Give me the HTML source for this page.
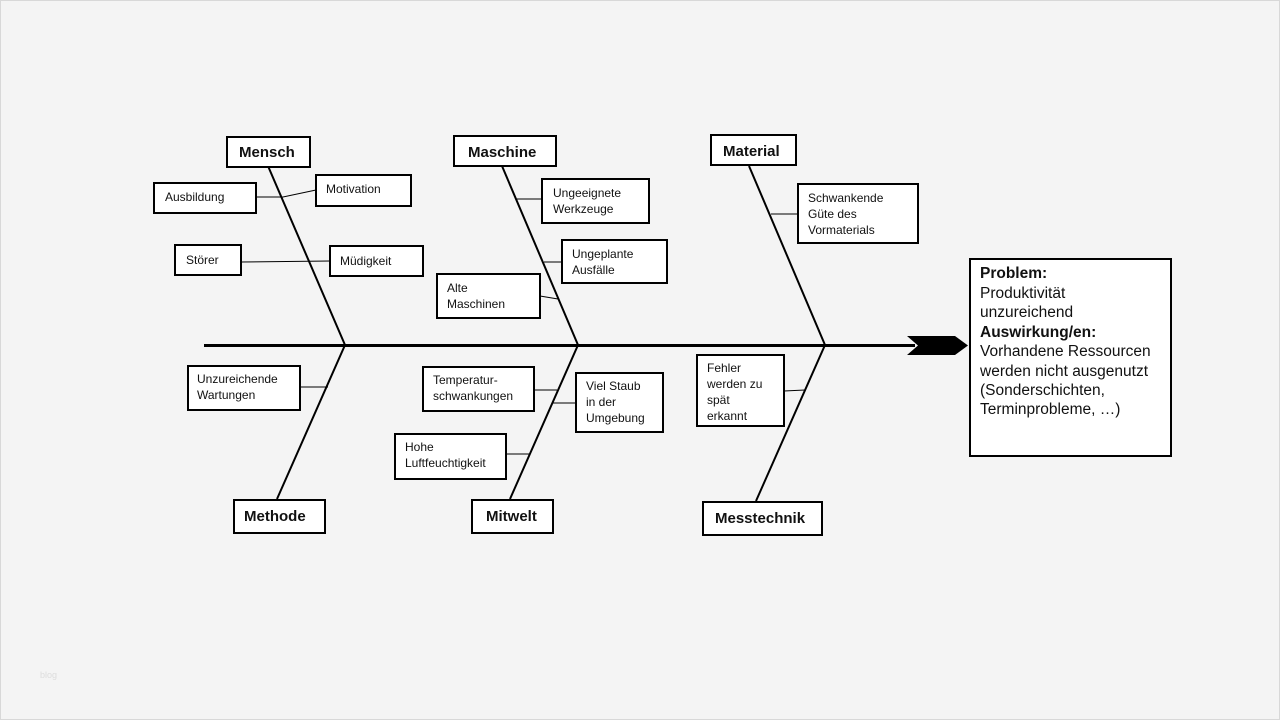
<!DOCTYPE html>
<html><head><meta charset="utf-8"><style>
html,body{margin:0;padding:0;background:#f4f4f4;}
svg{display:block}
text{font-family:"Liberation Sans",Arial,sans-serif;fill:#111;}
.s{font-size:12px}
.b{font-size:15px;font-weight:bold}
.p{font-size:15.5px}
</style></head><body>
<svg width="1280" height="720" viewBox="0 0 1280 720" xmlns="http://www.w3.org/2000/svg">
<rect x="0.5" y="0.5" width="1279" height="719" fill="#f4f4f4" stroke="#d8d8d8"/>
<text x="40" y="678" style="font-size:9px;fill:#ddd">blog</text>
<g stroke="#000" fill="none">
<line x1="204" y1="345.5" x2="915" y2="345.5" stroke-width="3"/>
<polyline points="268,166 345,345 277,499" stroke-width="2"/>
<polyline points="502,166 578,345 510,499" stroke-width="2"/>
<polyline points="749,166 825,345 756,501" stroke-width="2"/>
<g stroke-width="1">
<polyline points="256,197 283,197 316,190"/>
<line x1="241" y1="262" x2="330" y2="261"/>
<line x1="517" y1="199" x2="542" y2="199"/>
<line x1="544" y1="262" x2="562" y2="262"/>
<line x1="540" y1="296" x2="558" y2="299"/>
<line x1="771" y1="214" x2="798" y2="214"/>
<line x1="300" y1="387" x2="328" y2="387"/>
<line x1="534" y1="390" x2="557" y2="390"/>
<line x1="553" y1="403" x2="576" y2="403"/>
<line x1="506" y1="454" x2="529" y2="454"/>
<line x1="784" y1="391" x2="805" y2="390"/>
</g>
</g>
<polygon points="907,336 955,336 968,345.5 955,355 907,355 918,345.5" fill="#000"/>
<g fill="#fff" stroke="#000" stroke-width="2">
<rect x="227" y="137" width="83" height="30"/>
<rect x="454" y="136" width="102" height="30"/>
<rect x="711" y="135" width="85" height="30"/>
<rect x="154" y="183" width="102" height="30"/>
<rect x="316" y="175" width="95" height="31"/>
<rect x="175" y="245" width="66" height="30"/>
<rect x="330" y="246" width="93" height="30"/>
<rect x="542" y="179" width="107" height="44"/>
<rect x="562" y="240" width="105" height="43"/>
<rect x="437" y="274" width="103" height="44"/>
<rect x="798" y="184" width="120" height="59"/>
<rect x="970" y="259" width="201" height="197"/>
<rect x="188" y="366" width="112" height="44"/>
<rect x="423" y="367" width="111" height="44"/>
<rect x="576" y="373" width="87" height="59"/>
<rect x="395" y="434" width="111" height="45"/>
<rect x="697" y="355" width="87" height="71"/>
<rect x="234" y="500" width="91" height="33"/>
<rect x="472" y="500" width="81" height="33"/>
<rect x="703" y="502" width="119" height="33"/>
</g>
<text class="b" x="239" y="157">Mensch</text>
<text class="b" x="468" y="157">Maschine</text>
<text class="b" x="723" y="156">Material</text>
<text class="b" x="244" y="521">Methode</text>
<text class="b" x="486" y="521">Mitwelt</text>
<text class="b" x="715" y="523">Messtechnik</text>
<text class="s" x="165" y="201">Ausbildung</text>
<text class="s" x="326" y="193">Motivation</text>
<text class="s" x="186" y="264">Störer</text>
<text class="s" x="340" y="265">Müdigkeit</text>
<text class="s" x="553" y="197">Ungeeignete</text><text class="s" x="553" y="213">Werkzeuge</text>
<text class="s" x="572" y="258">Ungeplante</text><text class="s" x="572" y="274">Ausfälle</text>
<text class="s" x="447" y="292">Alte</text><text class="s" x="447" y="308">Maschinen</text>
<text class="s" x="808" y="202">Schwankende</text><text class="s" x="808" y="218">Güte des</text><text class="s" x="808" y="234">Vormaterials</text>
<text class="s" x="197" y="383">Unzureichende</text><text class="s" x="197" y="399">Wartungen</text>
<text class="s" x="433" y="384">Temperatur-</text><text class="s" x="433" y="400">schwankungen</text>
<text class="s" x="586" y="390">Viel Staub</text><text class="s" x="586" y="406">in der</text><text class="s" x="586" y="422">Umgebung</text>
<text class="s" x="405" y="451">Hohe</text><text class="s" x="405" y="467">Luftfeuchtigkeit</text>
<text class="s" x="707" y="372">Fehler</text><text class="s" x="707" y="388">werden zu</text><text class="s" x="707" y="404">spät</text><text class="s" x="707" y="420">erkannt</text>
<text class="p" x="980" y="278" font-weight="bold">Problem:</text>
<text class="p" x="980" y="298">Produktivität</text>
<text class="p" x="980" y="317">unzureichend</text>
<text class="p" x="980" y="337" font-weight="bold">Auswirkung/en:</text>
<text class="p" x="980" y="356">Vorhandene Ressourcen</text>
<text class="p" x="980" y="376">werden nicht ausgenutzt</text>
<text class="p" x="980" y="395">(Sonderschichten,</text>
<text class="p" x="980" y="414">Terminprobleme, …)</text>
</svg>
</body></html>
